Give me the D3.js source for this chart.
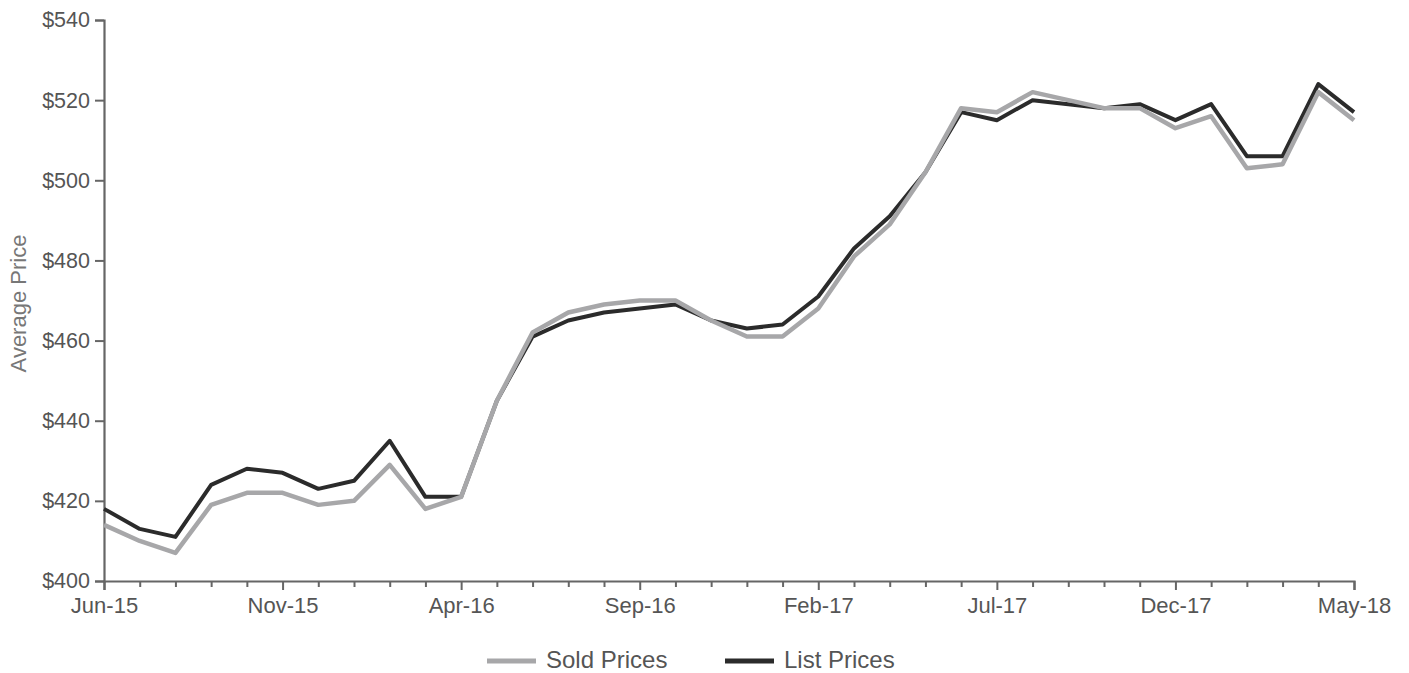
<!DOCTYPE html>
<html>
<head>
<meta charset="utf-8">
<script src="https://cdn.jsdelivr.net/npm/d3@7"></script>
<style>
  html, body { margin: 0; padding: 0; background: #fff; }
  svg { display: block; font-family: "Liberation Sans", Arial, sans-serif; }
</style>
</head>
<body>
<svg id="chart" width="1409" height="673"></svg>
<script>
const months = ["Jun-15","Jul-15","Aug-15","Sep-15","Oct-15","Nov-15","Dec-15","Jan-16","Feb-16","Mar-16",
  "Apr-16","May-16","Jun-16","Jul-16","Aug-16","Sep-16","Oct-16","Nov-16","Dec-16","Jan-17",
  "Feb-17","Mar-17","Apr-17","May-17","Jun-17","Jul-17","Aug-17","Sep-17","Oct-17","Nov-17",
  "Dec-17","Jan-18","Feb-18","Mar-18","Apr-18","May-18"];
const soldPrices = [414,410,407,419,422,422,419,420,429,418,
  421,445,462,467,469,470,470,465,461,461,
  468,481,489,502,518,517,522,520,518,518,
  513,516,503,504,522,515];
const listPrices = [418,413,411,424,428,427,423,425,435,421,
  421,445,461,465,467,468,469,465,463,464,
  471,483,491,502,517,515,520,519,518,519,
  515,519,506,506,524,517];
const yTicks = [400,420,440,460,480,500,520,540];
const seriesNames = ["Sold Prices","List Prices"];
const seriesColors = ["#a7a7a9","#2b2b2b"];

(function () {
const svg = d3.select("#chart");
const mLeft = 104, mRight = 1354, mTop = 20, mBottom = 581;

const x = d3.scaleLinear().domain([0, months.length - 1]).range([mLeft, mRight]);
const y = d3.scaleLinear().domain([400, 540]).range([mBottom, mTop]);

// Y axis
const yAxis = svg.append("g")
  .attr("transform", `translate(${mLeft},0)`)
  .call(d3.axisLeft(y).tickValues(yTicks).tickFormat(d => "$" + d).tickSize(9).tickPadding(5));
yAxis.select(".domain").attr("stroke", "#666").attr("stroke-width", 2.2);
yAxis.selectAll(".tick line").attr("stroke", "#666").attr("stroke-width", 2);
yAxis.selectAll(".tick text").attr("fill", "#555").style("font-size", "21.5px")
  .style("font-family", "'Liberation Sans', Arial, sans-serif");

// X axis
const xAxis = svg.append("g")
  .attr("transform", `translate(0,${mBottom})`)
  .call(d3.axisBottom(x).tickValues(d3.range(months.length))
    .tickFormat(i => i % 5 === 0 ? months[i] : "").tickSize(9).tickPadding(7));
xAxis.select(".domain").attr("stroke", "#666").attr("stroke-width", 2.2);
xAxis.selectAll(".tick line").attr("stroke", "#666").attr("stroke-width", 2)
  .attr("y2", i => i % 5 === 0 ? 9 : 6);
xAxis.selectAll(".tick text").attr("fill", "#555").style("font-size", "22px")
  .style("font-family", "'Liberation Sans', Arial, sans-serif");

// Y axis label
svg.append("text")
  .attr("transform", `translate(26,${(mTop + mBottom) / 2 + 3}) rotate(-90)`)
  .attr("text-anchor", "middle")
  .attr("fill", "#777")
  .style("font-size", "22px")
  .text("Average Price");

// Lines
const line = d3.line().x((d, i) => x(i)).y(d => y(d));
svg.append("path").datum(listPrices)
  .attr("fill", "none").attr("stroke", seriesColors[1]).attr("stroke-width", 4)
  .attr("stroke-linejoin", "round").attr("d", line);
svg.append("path").datum(soldPrices)
  .attr("fill", "none").attr("stroke", seriesColors[0]).attr("stroke-width", 4.5)
  .attr("stroke-linejoin", "round").attr("d", line);

// Legend
const legendItems = [{name: seriesNames[0], color: seriesColors[0], x: 487},
                     {name: seriesNames[1], color: seriesColors[1], x: 725}];
const lg = svg.append("g");
legendItems.forEach(it => {
  lg.append("line").attr("x1", it.x).attr("x2", it.x + 49).attr("y1", 661).attr("y2", 661)
    .attr("stroke", it.color).attr("stroke-width", 5);
  lg.append("text").attr("x", it.x + 59).attr("y", 668).attr("fill", "#555")
    .style("font-size", "24px").text(it.name);
});
})();
</script>
</body>
</html>
